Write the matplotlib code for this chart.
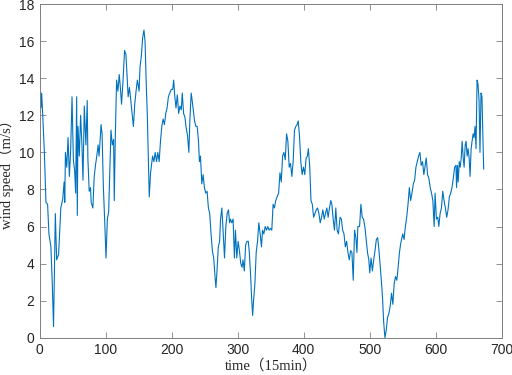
import numpy as np
import matplotlib
matplotlib.use('Agg')
import matplotlib.pyplot as plt

# wind speed (m/s) against sample index (15 min steps)
# in pieces so the pairs stay easy to check
t_a = [0, 1, 2, 3, 4.5, 7, 9.5, 12, 14, 17, 19, 21, 23.7, 25.7, 28.7, 32, 35, 37, 38, 39,
       41, 43, 45, 47, 49, 51, 53, 54.5, 56, 57, 58, 60, 62, 64, 65.6, 67.6, 70, 72, 73,
       75, 77, 78, 80.6, 82.6, 84.5, 86.5, 88.5]
v_a = [12.2, 13.3, 12.4, 13.2, 12.1, 10.1, 7.3, 7.2, 5.6, 4.9, 3.0, 0.6, 6.7, 4.2, 4.5,
       7.0, 7.5, 8.4, 7.3, 10.0, 9.2, 10.8, 8.7, 10.2, 13.0, 9.6, 9.0, 7.8, 13.0, 6.6,
       11.4, 9.8, 12.0, 10.4, 8.5, 12.5, 10.4, 12.8, 9.7, 7.9, 8.1, 7.3, 7.0, 8.7, 9.3,
       9.8, 10.4]

t_b = [90, 93, 94.5, 96.5, 98.5, 100.5, 102.5, 104.5, 106.5, 108, 110, 112, 113, 114.5,
       116.5, 118.5, 120.5, 122, 124, 126, 128.6, 130.6, 132, 134, 136, 138, 140, 142,
       144, 146, 148, 150.6, 152, 154, 156, 158, 159.6, 161.6, 163, 164.6, 166, 168,
       169.6, 171, 173, 175, 177, 179]
v_b = [9.8, 11.5, 11.0, 8.1, 6.3, 4.3, 6.4, 6.8, 9.4, 11.2, 10.4, 10.7, 7.4, 10.7, 13.9,
       13.3, 14.2, 13.6, 12.6, 13.7, 15.5, 15.3, 14.4, 13.0, 13.5, 12.8, 12.1, 11.4,
       12.6, 13.3, 13.9, 13.3, 14.6, 15.2, 16.2, 16.6, 16.0, 13.5, 12.1, 9.8, 7.6, 8.9,
       9.4, 9.8, 9.5, 10.0, 9.5, 10.0]

t_c = [181, 183, 185, 187, 189, 191, 193, 195, 197, 199.5, 201.5, 203, 204.5, 206.5,
       208.5, 210.5, 212.5, 214.5, 216, 218, 220, 222, 224, 226, 227.5, 229.5, 231,
       232.6, 234.6, 236.6, 238.6, 240.6, 242, 243.6, 245.6, 247.6, 249.6, 251.6, 253.6,
       255.6, 257.6, 259.6, 261.6, 263.6, 265.6, 267, 268.6, 270.6]
v_c = [9.5, 10.6, 11.4, 11.8, 11.5, 12.1, 12.4, 13.0, 13.2, 13.4, 13.4, 13.9, 13.1, 12.4,
       13.1, 12.1, 12.5, 12.3, 13.2, 12.1, 11.9, 11.3, 10.9, 10.0, 11.7, 13.2, 12.8,
       12.3, 11.7, 11.4, 11.4, 10.6, 9.5, 9.8, 8.3, 8.8, 8.1, 7.8, 7.9, 7.0, 6.7, 5.6,
       4.7, 4.3, 3.3, 2.7, 3.6, 4.9]

t_d = [272.6, 274, 276, 278, 280, 282, 284, 286, 287.6, 289, 291, 293, 295, 296.6, 298.6,
       300.6, 302.6, 304.6, 306.6, 308, 310, 312, 314, 316, 317.6, 319.6, 321, 322.6,
       324, 326, 328, 330, 332, 334, 336, 337.6, 339.6, 341.6, 343.6, 345.6, 347.6,
       349.6, 351.6, 353.6, 355.6, 357.6, 359.6]
v_d = [5.2, 6.4, 7.0, 5.6, 4.3, 6.0, 6.7, 6.9, 6.2, 6.4, 6.2, 6.4, 4.3, 5.8, 4.3, 5.2,
       4.7, 4.0, 3.8, 4.2, 3.6, 5.0, 5.2, 5.2, 4.6, 3.3, 2.2, 1.2, 2.0, 2.9, 4.6, 5.2,
       6.2, 5.6, 4.9, 5.8, 5.6, 6.0, 5.8, 6.0, 5.8, 5.9, 5.8, 7.2, 7.0, 7.4, 7.6]

t_e = [362, 364, 366, 368, 370, 372, 374, 376, 378, 380, 382, 384, 386, 388, 390, 391.6,
       393.6, 395.6, 397.6, 399.6, 401.6, 403.6, 405.6, 407, 409, 411, 413, 415, 417,
       419, 421, 423, 425, 427, 429, 431, 433, 435, 437, 439, 441, 442.6, 444.6, 446.6,
       448.6, 450.6, 452.6]
v_e = [7.8, 8.9, 8.4, 9.8, 10.0, 9.6, 11.0, 10.6, 9.2, 9.4, 8.7, 9.5, 11.2, 11.4, 11.5,
       11.7, 10.9, 9.5, 8.8, 9.2, 8.8, 9.7, 9.8, 10.2, 9.3, 7.4, 7.2, 6.5, 6.7, 6.9, 7.0,
       6.7, 6.2, 6.5, 6.9, 6.4, 6.7, 7.0, 6.5, 7.0, 7.4, 7.2, 6.4, 5.8, 7.0, 5.8, 5.6]

t_f = [455, 457, 459, 461, 463, 465, 467, 469, 471, 473, 475, 477, 479, 480.6, 482,
       484.6, 486.6, 488.6, 490.6, 492.6, 494.6, 496.6, 498.6, 500, 502, 504, 506, 508,
       510, 512, 514, 516, 518, 519.6, 521, 523, 525, 527, 529, 531, 533, 535, 537, 539]
v_f = [6.5, 6.4, 5.8, 5.6, 4.9, 5.2, 4.6, 4.2, 4.7, 4.6, 3.1, 5.8, 5.4, 4.6, 6.0, 6.0,
       7.2, 6.5, 6.4, 6.0, 5.3, 4.6, 4.2, 3.5, 4.3, 3.6, 4.2, 4.7, 5.3, 5.4, 4.7, 3.8,
       2.9, 2.0, 0.9, 0.0, 0.4, 1.1, 1.3, 1.7, 2.4, 1.8, 2.9, 3.3]

t_g = [541, 543, 545, 547, 550, 552, 554, 556, 558, 560, 562, 564, 566, 568, 570, 572,
       574, 576, 578, 580, 582, 584, 585.6, 587.6, 589.6, 591.6, 593.6, 595.6, 597.6,
       599, 601, 603, 604.6, 606.6, 608.6, 610.6, 612.6, 614.6, 616.6, 618.6, 620.6,
       622.6, 624.6, 626.6, 628.6, 630.6]
v_g = [3.1, 3.8, 4.6, 5.1, 5.6, 5.3, 6.0, 6.5, 7.2, 8.1, 7.4, 7.8, 8.3, 8.5, 9.2, 9.5,
       9.8, 10.0, 9.3, 9.5, 8.8, 9.3, 9.7, 8.8, 8.6, 8.1, 7.8, 7.4, 6.0, 7.8, 6.4, 6.5,
       6.0, 6.7, 7.0, 7.9, 7.4, 7.0, 6.5, 6.9, 7.6, 7.8, 8.1, 8.6, 9.2, 9.3]

t_h = [631.5, 632.8, 634, 635.6, 637, 638.6, 640, 641.6, 643, 644.6, 646, 647.6, 649,
       650.6, 652, 653.6, 655, 656.6, 658, 659.6, 661, 662.6, 664, 665.6, 667, 668.6,
       670, 671, 672.6]
v_h = [8.1, 9.3, 8.4, 9.5, 9.2, 9.7, 10.6, 9.7, 9.2, 10.4, 10.6, 9.8, 10.2, 9.7, 8.7,
       10.2, 10.6, 11.0, 10.8, 11.4, 10.2, 13.9, 13.7, 12.8, 10.0, 13.2, 13.0, 11.4, 9.1]

time_idx = t_a + t_b + t_c + t_d + t_e + t_f + t_g + t_h
wind_speed = v_a + v_b + v_c + v_d + v_e + v_f + v_g + v_h

plt.rcParams['font.family'] = ['Liberation Sans', 'DejaVu Sans']

fig = plt.figure(figsize=(5.12, 3.75), dpi=100)
ax = fig.add_axes([0.0775, 0.0995, 0.9025, 0.8895])

ax.plot(time_idx, wind_speed, color='#0072BD', linewidth=0.8)

ax.set_xlim(0, 700)
ax.set_ylim(0, 18)
ax.set_xticks(np.arange(0, 701, 100))
ax.set_yticks(np.arange(0, 19, 2))
ax.tick_params(direction='in', top=True, right=True, length=4, width=0.6,
               color='#7f7f7f', labelcolor='#262626', labelsize=10, pad=4)
for s in ax.spines.values():
    s.set_color('#7f7f7f')
    s.set_linewidth(0.7)

ax.set_xlabel('time（15min）', family=['Liberation Serif', 'Noto Sans CJK SC'],
              fontsize=10.5, labelpad=1, color='#262626')
ax.set_ylabel('wind speed（m/s）', family=['Liberation Serif', 'Noto Sans CJK SC'],
              fontsize=10.5, labelpad=3, color='#262626')

fig.savefig('out.png', dpi=100)
